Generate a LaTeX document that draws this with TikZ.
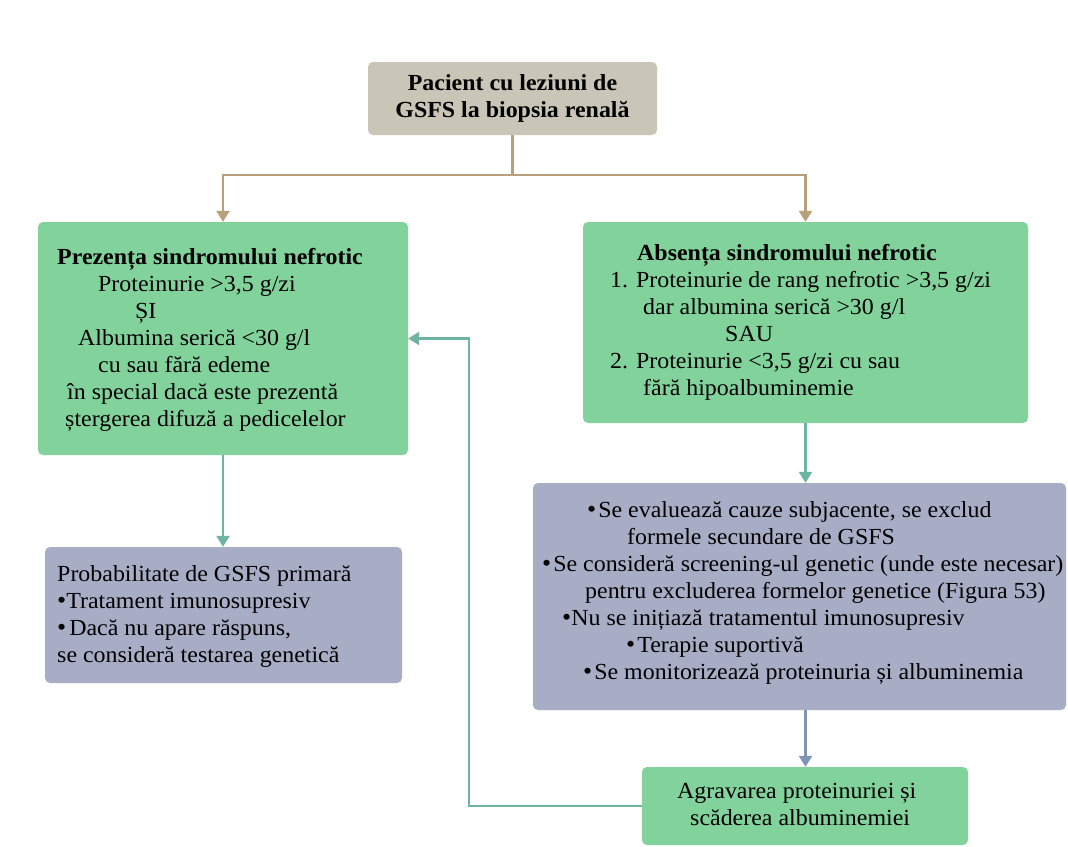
\documentclass[tikz,border=0pt]{standalone}
\usepackage{fontspec}
\setmainfont{LiberationSerif}[Extension=.ttf, UprightFont=*-Regular,
  BoldFont=*-Bold, ItalicFont=*-Italic, BoldItalicFont=*-BoldItalic,
  FakeStretch=1.04]
\usetikzlibrary{arrows.meta}

\definecolor{boxgreen}{HTML}{82D29C}
\definecolor{boxtop}{HTML}{C9C6B8}
\definecolor{boxgray}{HTML}{A8ADC6}
\definecolor{linetan}{HTML}{B8A07C}
\definecolor{lineteal}{HTML}{6DB5A2}
\definecolor{lineblue}{HTML}{7F93B5}

% list bullet used in the grey boxes
\newcommand\bulletdot{\raisebox{-0.02em}{\fontsize{25}{25}\selectfont •}}

\tikzset{
  box/.style={rectangle, rounded corners=5pt, draw=none, inner sep=0pt},
  topbox/.style={box, fill=boxtop},
  greenbox/.style={box, fill=boxgreen},
  graybox/.style={box, fill=boxgray},
  txt/.style={inner sep=0pt, align=left, anchor=north west,
    font=\fontsize{23}{27}\selectfont},
  conn/.style={line width=2.4pt, -{Triangle[width=13pt,length=11pt]}},
  tanline/.style={line width=2.4pt, draw=linetan},
}

\begin{document}
\begin{tikzpicture}[x=1pt, y=-1pt]
  \useasboundingbox[fill=white] (0,0) rectangle (1068,846);

  % boxes
  \node[topbox, minimum width=289pt, minimum height=73pt, align=center,
        font=\fontsize{23}{27}\selectfont\bfseries] (pac) at (512.5,98.5)
        {Pacient cu leziuni de\\GSFS la biopsia renală};
  \node[greenbox, minimum width=370pt, minimum height=233pt] (pre) at (223,338.5) {};
  \node[greenbox, minimum width=445pt, minimum height=201pt] (abs) at (805.5,322.5) {};
  \node[graybox, minimum width=357pt, minimum height=136pt] (prob) at (223.5,615) {};
  \node[graybox, minimum width=533pt, minimum height=227pt] (eval) at (799.5,596.5) {};
  \node[greenbox, minimum width=326pt, minimum height=78pt] (agr) at (805,806) {};

  % box texts
  \node[txt] (preT) at (57,248) {%
    \textbf{Prezența sindromului nefrotic}\\
    \hspace*{41pt}Proteinurie >3,5 g/zi\\
    \hspace*{78pt}ȘI\\
    \hspace*{21pt}Albumina serică <30 g/l\\
    \hspace*{41pt}cu sau fără edeme\\
    \hspace*{10pt}în special dacă este prezentă\\
    \hspace*{8pt}ștergerea difuză a pedicelelor};

  \node[txt] (absT) at (610,244) {%
    \hspace*{27pt}\textbf{Absența sindromului nefrotic}\\
    1. Proteinurie de rang nefrotic >3,5 g/zi\\
    \hspace*{33pt}dar albumina serică >30 g/l\\
    \hspace*{115pt}SAU\\
    2. Proteinurie <3,5 g/zi cu sau\\
    \hspace*{33pt}fără hipoalbuminemie};

  \node[txt] (probT) at (57,565) {%
    Probabilitate de GSFS primară\\
    \bulletdot\hspace{0pt}Tratament imunosupresiv\\
    \bulletdot\hspace{3pt}Dacă nu apare răspuns,\\
    se consideră testarea genetică};

  \node[txt] (evalT) at (542,501) {%
    \hspace*{45pt}\bulletdot\hspace{2pt}Se evaluează cauze subjacente, se exclud\\
    \hspace*{85pt}formele secundare de GSFS\\
    \bulletdot\hspace{2pt}Se consideră screening-ul genetic (unde este necesar)\\
    \hspace*{43pt}pentru excluderea formelor genetice (Figura 53)\\
    \hspace*{20pt}\bulletdot\hspace{0pt}Nu se inițiază tratamentul imunosupresiv\\
    \hspace*{84pt}\bulletdot\hspace{2pt}Terapie suportivă\\
    \hspace*{41pt}\bulletdot\hspace{2pt}Se monitorizează proteinuria și albuminemia};

  \node[txt] (agrT) at (677,783) {%
    Agravarea proteinuriei și\\
    \hspace*{13pt}scăderea albuminemiei};

  % split below the first box
  \coordinate (split) at (512.5,175);
  \draw[tanline] (pac.south) -- (split);
  \draw[tanline, conn] (split) -| (pre.north);
  \draw[tanline, conn] (split) -| (abs.north);

  % downward connectors
  \draw[conn, draw=lineteal] (pre.south) -- (pre.south |- prob.north);
  \draw[conn, draw=lineteal] (abs.south) -- (abs.south |- eval.north);
  \draw[conn, draw=lineblue] (abs.south |- eval.south) -- (abs.south |- agr.north);

  % feedback loop back to the nephrotic branch
  \coordinate (loopx) at (469,0);
  \draw[conn, draw=lineteal] (agr.west) -- (agr.west -| loopx) |- (pre.east);
\end{tikzpicture}
\end{document}
